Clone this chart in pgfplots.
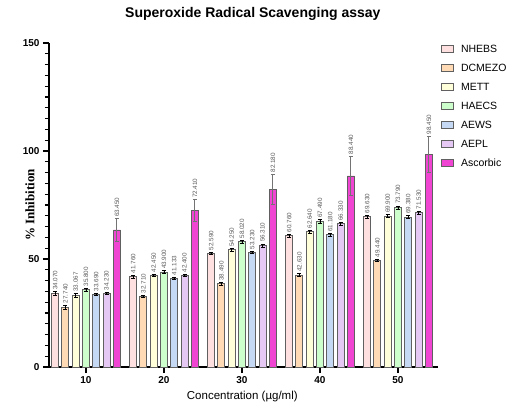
\documentclass[border=0pt]{standalone}
\usepackage{fontspec}
\setmainfont{Liberation Sans}
\newfontfamily\timesfont{Liberation Serif}
\usepackage{pgfplots}
\pgfplotsset{compat=1.18}
\usepackage{pgfplotstable}

\definecolor{cNHEBS}{RGB}{255,224,224}
\definecolor{cDCMEZO}{RGB}{255,218,180}
\definecolor{cMETT}{RGB}{255,255,218}
\definecolor{cHAECS}{RGB}{204,255,204}
\definecolor{cAEWS}{RGB}{197,217,245}
\definecolor{cAEPL}{RGB}{230,200,245}
\definecolor{cAsc}{RGB}{240,69,210}
\definecolor{edge}{RGB}{96,96,96}

% x = concentration + bar offset, y = % inhibition, e = error
\pgfplotstableread{
x y e
6.04 34.070 0.8
16.04 41.760 0.8
26.04 52.590 0.6
36.04 60.760 0.8
46.04 69.630 0.7
}\nhebs
\pgfplotstableread{
x y e
7.36 27.740 1.0
17.36 32.710 0.6
27.36 38.490 0.6
37.36 42.630 0.7
47.36 49.440 0.6
}\dcmezo
\pgfplotstableread{
x y e
8.68 33.067 1.0
18.68 42.450 0.6
28.68 54.250 0.5
38.68 62.640 0.6
48.68 69.900 0.6
}\mett
\pgfplotstableread{
x y e
10.00 35.800 0.7
20.00 43.900 0.7
30.00 58.020 0.6
40.00 67.490 0.8
50.00 73.790 0.8
}\haecs
\pgfplotstableread{
x y e
11.32 33.690 0.5
21.32 41.133 0.5
31.32 53.230 0.5
41.32 61.180 0.6
51.32 69.380 0.7
}\aews
\pgfplotstableread{
x y e
12.64 34.230 0.5
22.64 42.400 0.5
32.64 56.310 0.7
42.64 66.330 0.6
52.64 71.530 0.7
}\aepl
\pgfplotstableread{
x y e
13.96 63.450 5.2
23.96 72.410 5.0
33.96 82.180 7.0
43.96 88.440 9.2
53.96 98.450 8.5
}\ascorbic

\pgfplotsset{
  mybar/.style={
    ybar, bar shift=0pt, bar width=7pt, draw=edge, line width=0.8pt, fill=#1,
    error bars/y dir=both, error bars/y explicit,
    error bars/error mark options={rotate=90, mark size=2pt, line width=0.7pt, black},
    error bars/error bar style={line width=0.7pt, black},
    visualization depends on={\thisrow{e} \as \err},
    point meta=explicit,
    nodes near coords={\pgfmathprintnumber[fixed,zerofill,precision=3]{\pgfplotspointmeta}},
    every node near coord/.style={yshift=\err*2.16pt+1.5pt, rotate=90, anchor=west,
      font=\fontsize{6.3}{7}\selectfont, text=black!65, inner sep=0pt},
  },
}

\begin{document}
\begin{tikzpicture}
\useasboundingbox (-49pt,-37pt) rectangle (461pt,367pt);
\begin{axis}[
  at={(0pt,0pt)}, anchor=south west,
  scale only axis,
  width=389pt, height=324pt,
  xmin=5.26, xmax=55.13,
  ymin=0, ymax=150,
  axis lines*=left,
  axis line style={line width=1.6pt, -},
  xtick={10,20,30,40,50},
  ytick={0,50,100,150},
  minor y tick num=9,
  tick align=outside,
  major tick length=6pt,
  minor tick length=4pt,
  every tick/.style={black, line width=1.2pt},
  minor tick style={line width=1.1pt},
  /pgf/number format/assume math mode=true,
  ticklabel style={font=\fontsize{10}{11}\selectfont\bfseries},
  title={\bfseries Superoxide Radical Scavenging assay},
  title style={at={(axis description cs:0.524,1)}, yshift=23pt, anchor=center,
    font=\fontsize{14}{16}\selectfont},
  xlabel={Concentration (µg/ml)},
  xlabel style={at={(axis description cs:0.497,0)}, yshift=-30pt, anchor=center,
    font=\fontsize{11.5}{13}\selectfont},
  ylabel={\timesfont\bfseries \% Inhibition},
  ylabel style={at={(axis description cs:-0.049,0.5)}, anchor=center,
    font=\fontsize{13}{15}\selectfont},
  legend style={draw=none, fill=none, at={(axis description cs:1,1)}, anchor=north west,
    xshift=0pt, yshift=1pt, font=\fontsize{10.5}{12}\selectfont, row sep=9pt,
    nodes={inner sep=0pt, text height=8pt, text depth=2pt, anchor=west}},
  legend cell align=left,
  legend image code/.code={\draw[#1, line width=0.8pt] (0pt,-3pt) rectangle (12pt,4pt);
    \path (19pt,0pt);},
]
\addplot[mybar=cNHEBS] table[x=x, y=y, y error=e, meta=y] {\nhebs};
\addlegendentry{NHEBS}
\addplot[mybar=cDCMEZO] table[x=x, y=y, y error=e, meta=y] {\dcmezo};
\addlegendentry{DCMEZO}
\addplot[mybar=cMETT] table[x=x, y=y, y error=e, meta=y] {\mett};
\addlegendentry{METT}
\addplot[mybar=cHAECS] table[x=x, y=y, y error=e, meta=y] {\haecs};
\addlegendentry{HAECS}
\addplot[mybar=cAEWS] table[x=x, y=y, y error=e, meta=y] {\aews};
\addlegendentry{AEWS}
\addplot[mybar=cAEPL] table[x=x, y=y, y error=e, meta=y] {\aepl};
\addlegendentry{AEPL}
\addplot[mybar=cAsc, error bars/error bar style={line width=0.9pt, black!55},
  error bars/error mark options={rotate=90, mark size=2pt, line width=0.9pt, black!55}]
  table[x=x, y=y, y error=e, meta=y] {\ascorbic};
\addlegendentry{Ascorbic}
\end{axis}
\end{tikzpicture}
\end{document}
